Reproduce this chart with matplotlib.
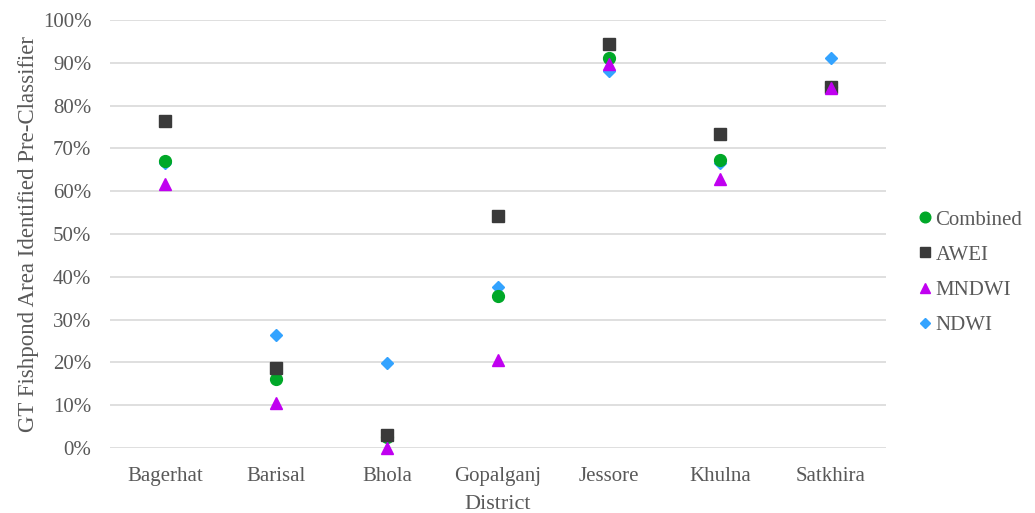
import matplotlib
matplotlib.use("Agg")
import matplotlib.pyplot as plt
from matplotlib.ticker import PercentFormatter

plt.rcParams['font.family'] = ['Liberation Serif', 'DejaVu Serif']

districts = ["Bagerhat", "Barisal", "Bhola", "Gopalganj", "Jessore", "Khulna", "Satkhira"]
combined = [67.1, 16.2, 2.5, 35.6, 91.1, 67.2, 84.4]
awei = [76.3, 18.8, 3.0, 54.1, 94.5, 73.4, 84.3]
mndwi = [61.7, 10.6, 0.0, 20.6, 89.7, 62.9, 84.2]
ndwi = [66.7, 26.4, 19.8, 37.7, 88.0, 66.5, 91.1]

fig = plt.figure(figsize=(10.35, 5.13), dpi=100)
ax = fig.add_axes([0.1058, 0.1267, 0.7507, 0.8343])

x = range(len(districts))
ax.plot(x, combined, 'o', color='#00a828', ms=8.5, mec='#00a828', label='Combined', zorder=3, clip_on=False)
ax.plot(x, awei, 's', color='#3a3a3a', ms=8.5, mec='#3a3a3a', label='AWEI', zorder=4, clip_on=False)
ax.plot(x, mndwi, '^', color='#c000f0', ms=8, mec='#c000f0', label='MNDWI', zorder=5, clip_on=False)
ax.plot(x, ndwi, 'D', color='#33a3ff', ms=6, mec='#33a3ff', label='NDWI', zorder=2, clip_on=False)

ax.set_xlim(-0.5, len(districts) - 0.5)
ax.set_ylim(0, 100)
ax.set_yticks(range(0, 101, 10))
ax.yaxis.set_major_formatter(PercentFormatter(decimals=0))
ax.set_xticks(list(x))
ax.set_xticklabels(districts)
ax.grid(axis='y', color='#d9d9d9', lw=1.2)
ax.set_axisbelow(True)
for s in ax.spines.values():
    s.set_visible(False)
ax.tick_params(length=0, labelsize=15, colors='#595959')
ax.tick_params(axis='x', pad=14)
ax.tick_params(axis='y', pad=13)

ax.set_xlabel("District", fontsize=16, color='#595959', labelpad=6)
ax.set_ylabel("GT Fishpond Area Identified Pre-Classifier", fontsize=16.5, color='#595959', labelpad=3)

ax.legend(loc='center left', bbox_to_anchor=(1.012, 0.41), frameon=False, fontsize=15,
          handletextpad=0.0, labelspacing=0.75, handlelength=1.0, labelcolor='#595959',
          markerscale=0.9)

fig.savefig("out.png", dpi=100)
